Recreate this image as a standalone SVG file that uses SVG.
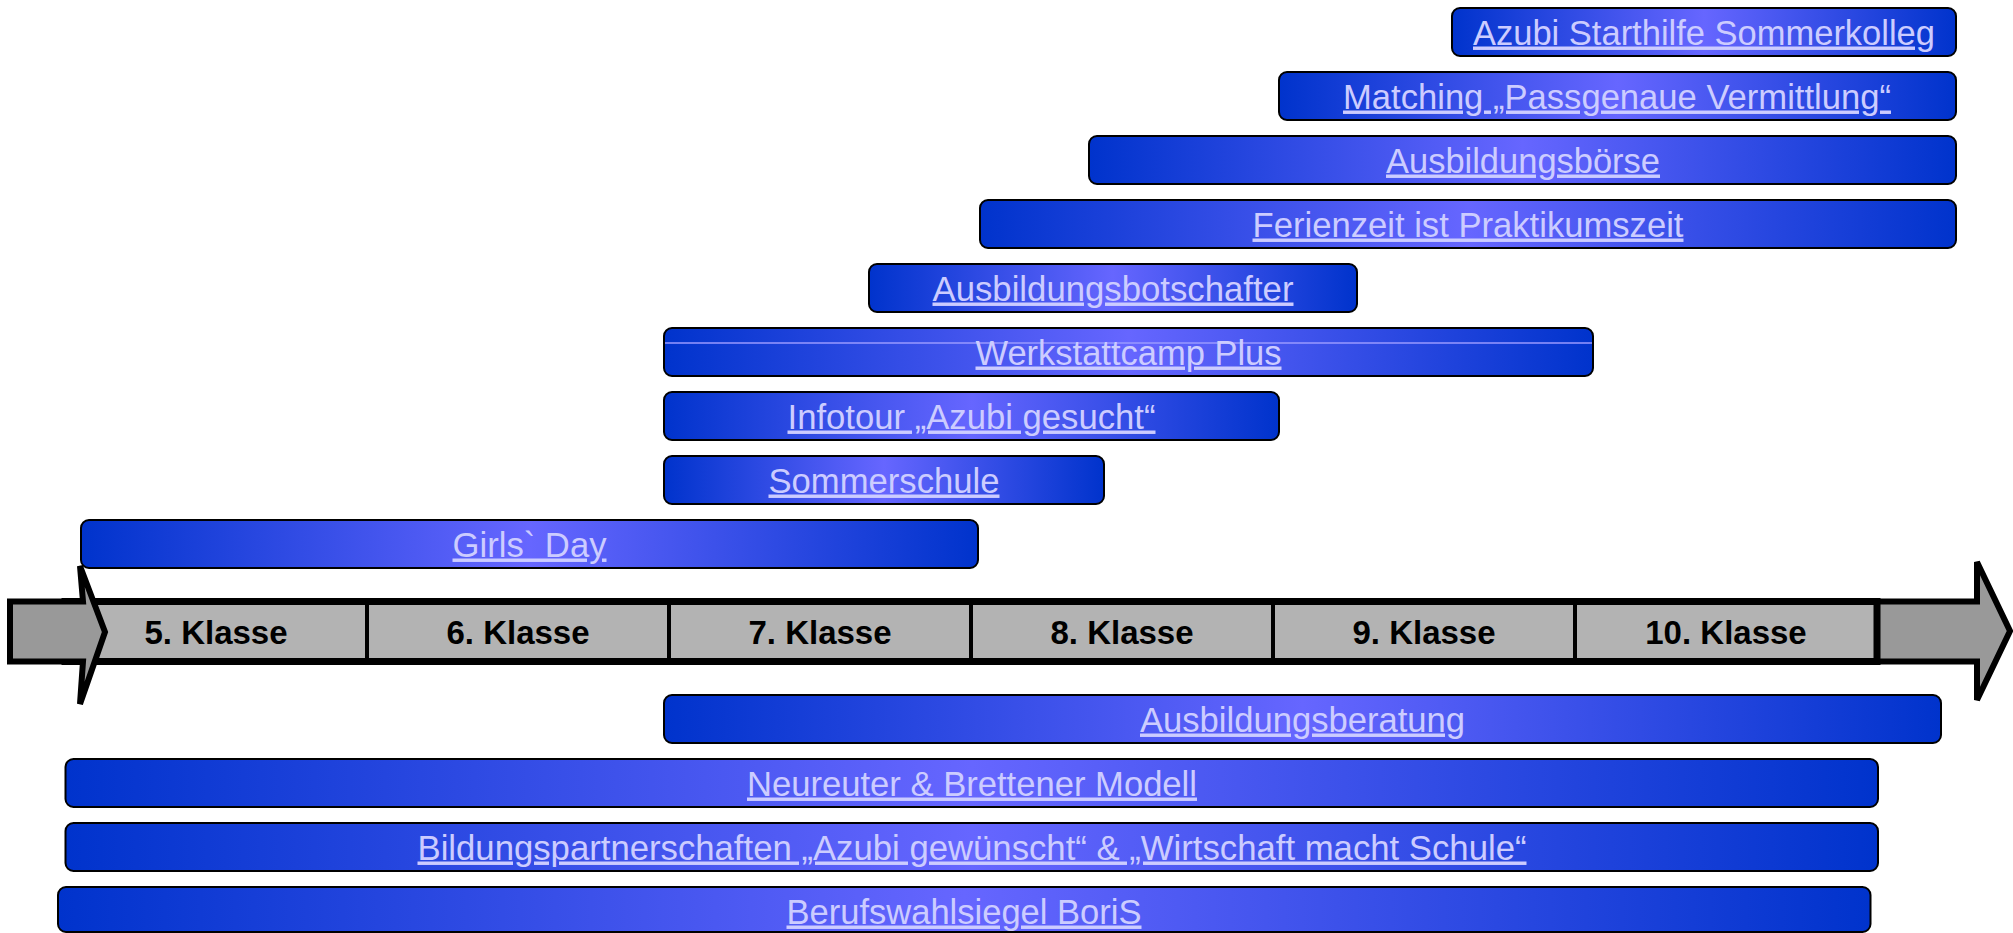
<svg xmlns="http://www.w3.org/2000/svg" width="2013" height="933" viewBox="0 0 2013 933">
  <defs>
    <linearGradient id="barGrad" x1="0" y1="0" x2="1" y2="0">
      <stop offset="0" stop-color="#0033cc"/>
      <stop offset="0.5" stop-color="#6666ff"/>
      <stop offset="1" stop-color="#0033cc"/>
    </linearGradient>
  </defs>
  <style>
    .bar { fill: url(#barGrad); stroke: #000; stroke-width: 2; }
    .lbl { font-family: "Liberation Sans", Arial, sans-serif; font-size: 34.5px; fill: #ccccff; text-anchor: middle; text-decoration: underline; }
    .cls { font-family: "Liberation Sans", Arial, sans-serif; font-size: 33px; font-weight: bold; fill: #000; text-anchor: middle; }
    .arrow { fill: #999999; stroke: #000; stroke-width: 6; stroke-linejoin: miter; }
    .div { stroke: #000; stroke-width: 4; }
  </style>
  <rect width="2013" height="933" fill="#ffffff"/>

  <g id="timeline">
    <polygon class="arrow" points="1877,601.5 1977,601.5 1977,562 2010,631 1977,700 1977,661.5 1877,661.5"/>
    <rect x="65" y="601.5" width="1812" height="60" fill="#b3b3b3" stroke="#000" stroke-width="7"/>
    <line class="div" x1="367" y1="603" x2="367" y2="660"/>
    <line class="div" x1="669" y1="603" x2="669" y2="660"/>
    <line class="div" x1="971" y1="603" x2="971" y2="660"/>
    <line class="div" x1="1273" y1="603" x2="1273" y2="660"/>
    <line class="div" x1="1575" y1="603" x2="1575" y2="660"/>
    <polygon class="arrow" points="10,601.5 83,601.5 80,566 105,632 80,704 83,661.5 10,661.5"/>
    <text class="cls" x="216" y="644">5. Klasse</text>
    <text class="cls" x="518" y="644">6. Klasse</text>
    <text class="cls" x="820" y="644">7. Klasse</text>
    <text class="cls" x="1122" y="644">8. Klasse</text>
    <text class="cls" x="1424" y="644">9. Klasse</text>
    <text class="cls" x="1726" y="644">10. Klasse</text>
  </g>

  <g id="connectors"/>

  <g id="azubi-starthilfe">
    <rect class="bar" x="1452" y="8" width="504" height="48" rx="8"/>
    <text class="lbl" x="1704" y="44.5" textLength="462" lengthAdjust="spacingAndGlyphs">Azubi Starthilfe Sommerkolleg</text>
  </g>
  <g id="matching">
    <rect class="bar" x="1279" y="72" width="677" height="48" rx="8"/>
    <text class="lbl" x="1617" y="108.5" textLength="548" lengthAdjust="spacingAndGlyphs">Matching „Passgenaue Vermittlung“</text>
  </g>
  <g id="ausbildungsboerse">
    <rect class="bar" x="1089" y="136" width="867" height="48" rx="8"/>
    <text class="lbl" x="1523" y="172.5" textLength="274" lengthAdjust="spacingAndGlyphs">Ausbildungsbörse</text>
  </g>
  <g id="ferienzeit">
    <rect class="bar" x="980" y="200" width="976" height="48" rx="8"/>
    <text class="lbl" x="1468" y="236.5" textLength="431" lengthAdjust="spacingAndGlyphs">Ferienzeit ist Praktikumszeit</text>
  </g>
  <g id="ausbildungsbotschafter">
    <rect class="bar" x="869" y="264" width="488" height="48" rx="8"/>
    <text class="lbl" x="1113" y="300.5" textLength="361" lengthAdjust="spacingAndGlyphs">Ausbildungsbotschafter</text>
  </g>
  <g id="werkstattcamp">
    <rect class="bar" x="664" y="328" width="929" height="48" rx="8"/>
    <line x1="665" y1="343" x2="1592" y2="343" stroke="#9a9aff" stroke-width="1.5"/>
    <text class="lbl" x="1128.5" y="364.5" textLength="306" lengthAdjust="spacingAndGlyphs">Werkstattcamp Plus</text>
  </g>
  <g id="infotour">
    <rect class="bar" x="664" y="392" width="615" height="48" rx="8"/>
    <text class="lbl" x="971.5" y="428.5" textLength="368" lengthAdjust="spacingAndGlyphs">Infotour „Azubi gesucht“</text>
  </g>
  <g id="sommerschule">
    <rect class="bar" x="664" y="456" width="440" height="48" rx="8"/>
    <text class="lbl" x="884" y="492.5" textLength="231" lengthAdjust="spacingAndGlyphs">Sommerschule</text>
  </g>
  <g id="girls-day">
    <rect class="bar" x="81" y="520" width="897" height="48" rx="8"/>
    <text class="lbl" x="529.5" y="556.5" textLength="154" lengthAdjust="spacingAndGlyphs">Girls` Day</text>
  </g>

  <g id="ausbildungsberatung">
    <rect class="bar" x="664" y="695" width="1277" height="48" rx="8"/>
    <text class="lbl" x="1302.5" y="731.5" textLength="325" lengthAdjust="spacingAndGlyphs">Ausbildungsberatung</text>
  </g>
  <g id="neureuter">
    <rect class="bar" x="65.5" y="759" width="1812.5" height="48" rx="8"/>
    <text class="lbl" x="972" y="795.5" textLength="450" lengthAdjust="spacingAndGlyphs">Neureuter &amp; Brettener Modell</text>
  </g>
  <g id="bildungspartnerschaften">
    <rect class="bar" x="65.5" y="823" width="1812.5" height="48" rx="8"/>
    <text class="lbl" x="972" y="859.5" textLength="1109" lengthAdjust="spacingAndGlyphs">Bildungspartnerschaften „Azubi gewünscht“ &amp; „Wirtschaft macht Schule“</text>
  </g>
  <g id="berufswahlsiegel">
    <rect class="bar" x="58" y="887" width="1812.5" height="45" rx="8"/>
    <text class="lbl" x="964" y="923.5" textLength="355" lengthAdjust="spacingAndGlyphs">Berufswahlsiegel BoriS</text>
  </g>
</svg>
